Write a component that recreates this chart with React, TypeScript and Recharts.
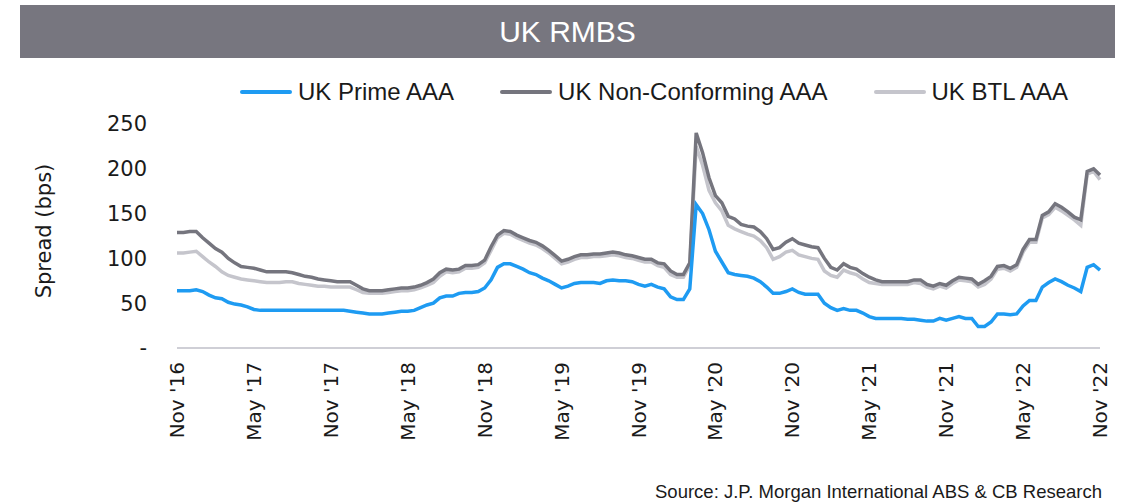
import { Legend, Line, LineChart, XAxis, YAxis } from "recharts";

// Half-month steps from Nov '16 to Nov '22, spreads in bps.
const tickLabels = [
  "Nov '16", "May '17", "Nov '17", "May '18", "Nov '18", "May '19", "Nov '19",
  "May '20", "Nov '20", "May '21", "Nov '21", "May '22", "Nov '22",
];

const prime = [
  64, 64, 64, 65, 63, 59, 56, 55, 51, 49,
  48, 46, 43, 42, 42, 42, 42, 42, 42, 42,
  42, 42, 42, 42, 42, 42, 42, 41, 40, 39,
  38, 38, 38, 39, 40, 41, 41, 42, 45, 48,
  50, 56, 58, 58, 61, 62, 62, 63, 67, 76,
  90, 94, 94, 91, 88, 84, 82, 78, 75, 71,
  67, 69, 72, 73, 73, 73, 72, 75, 76, 75,
  75, 74, 71, 69, 71, 68, 66, 57, 54, 54,
  66, 160, 150, 132, 108, 96, 84, 82, 81, 80,
  78, 74, 68, 61, 61, 63, 66, 62, 60, 60,
  60, 50, 45, 42, 44, 42, 42, 39, 35, 33,
  33, 33, 33, 33, 32, 32, 31, 30, 30, 33,
  31, 33, 35, 33, 33, 24, 24, 29, 38, 38,
  37, 38, 47, 53, 53, 68, 73, 77, 74, 70,
  67, 63, 90, 93, 87,
];

const nonConforming = [
  129, 129, 130, 130, 123, 117, 111, 107, 100, 95,
  91, 90, 89, 87, 85, 85, 85, 85, 84, 82,
  80, 79, 77, 76, 75, 74, 74, 74, 70, 66,
  64, 64, 64, 65, 66, 67, 67, 68, 70, 73,
  77, 84, 88, 87, 88, 92, 92, 93, 98, 113,
  126, 131, 130, 126, 123, 120, 118, 114, 109, 103,
  97, 99, 102, 104, 104, 105, 105, 106, 107, 106,
  104, 103, 101, 99, 99, 95, 94, 86, 82, 82,
  95, 240, 218, 190, 170, 162, 147, 144, 138, 136,
  135, 130, 122, 110, 112, 118, 122, 117, 115, 113,
  112, 100, 90, 87, 94, 90, 88, 83, 79, 76,
  74, 74, 74, 74, 74, 76, 76, 71, 69, 72,
  70, 75, 79, 78, 77, 71, 75, 80, 91, 92,
  89, 93, 110, 121, 121, 148, 152, 161, 157, 152,
  146, 143, 197, 200, 193,
];

const btl = [
  106, 106, 107, 108, 102, 96, 91, 85, 81, 79,
  77, 76, 75, 74, 73, 73, 73, 74, 74, 72,
  71, 70, 69, 69, 68, 68, 68, 68, 65, 62,
  61, 61, 61, 62, 63, 64, 64, 65, 67, 70,
  73, 80, 85, 84, 85, 89, 89, 90, 95, 109,
  123, 128, 127, 123, 120, 117, 115, 111, 106, 100,
  94, 96, 99, 101, 101, 102, 102, 103, 104, 103,
  101, 100, 98, 96, 96, 92, 90, 82, 79, 79,
  92, 225, 204, 176, 162, 153, 137, 133, 130, 127,
  125, 120, 112, 99, 102, 107, 109, 104, 102, 100,
  99, 86, 81, 79, 87, 84, 82, 77, 73, 72,
  71, 71, 71, 71, 71, 73, 72, 68, 66, 69,
  67, 72, 76, 75, 74, 68, 71, 77, 88, 89,
  86, 90, 107, 118, 118, 145, 149, 157, 153, 148,
  143, 137, 194, 197, 188,
];

const yTicks = [0, 50, 100, 150, 200, 250];

const rows = prime.map((p, i) => ({
  month: i / 2,
  prime: p,
  nonConf: nonConforming[i],
  btl: btl[i],
}));

const tickMonths = tickLabels.map((_, i) => i * 6);

const legendOrder = ["prime", "nonConf", "btl"];

const sans = '"Liberation Sans", Arial, sans-serif';
const dejavu = '"DejaVu Sans", Verdana, sans-serif';

function MonthTick(props: any) {
  const { x, y, payload } = props;
  return (
    <text
      x={x}
      y={y}
      transform={`rotate(-90, ${x}, ${y})`}
      textAnchor="end"
      dominantBaseline="central"
      fontFamily={dejavu}
      fontSize={20}
      fill="#1a1a1a"
    >
      {tickLabels[Math.round(payload.value / 6)]}
    </text>
  );
}

function LegendRow(props: any) {
  const items = [...(props.payload ?? [])].sort(
    (a: any, b: any) => legendOrder.indexOf(a.dataKey) - legendOrder.indexOf(b.dataKey)
  );
  return (
    <div style={{ display: "flex", alignItems: "center", paddingLeft: 240 }}>
      {items.map((item: any) => (
        <div key={item.dataKey} style={{ display: "flex", alignItems: "center", marginRight: 46 }}>
          <span
            style={{
              display: "inline-block",
              width: 52,
              height: 4,
              borderRadius: 2,
              background: item.color,
              marginRight: 6,
            }}
          />
          <span style={{ fontFamily: sans, fontSize: 24, color: "#1a1a1a", lineHeight: "28px" }}>
            {item.value}
          </span>
        </div>
      ))}
    </div>
  );
}

export default function App() {
  return (
    <div style={{ position: "absolute", left: 0, top: 0, width: 1125, height: 503, background: "#fff" }}>
      <div
        style={{
          position: "absolute",
          left: 20,
          top: 5,
          width: 1095,
          height: 53,
          background: "#77767f",
          color: "#fff",
          fontFamily: sans,
          fontSize: 30,
          lineHeight: "53px",
          textAlign: "center",
        }}
      >
        UK RMBS
      </div>

      <LineChart
        width={1125}
        height={503}
        data={rows}
        margin={{ top: 124, right: 25, bottom: 95, left: 77 }}
        style={{ position: "absolute", left: 0, top: 0 }}
      >
        <XAxis
          dataKey="month"
          type="number"
          domain={[0, 72]}
          ticks={tickMonths}
          tick={<MonthTick />}
          tickLine={false}
          tickSize={0}
          tickMargin={14}
          height={60}
          axisLine={{ stroke: "#cfcfd6", strokeWidth: 2 }}
        />
        <YAxis
          domain={[0, 250]}
          ticks={yTicks}
          width={100}
          axisLine={false}
          tickLine={false}
          tickSize={0}
          tickMargin={30}
          tick={{ fontFamily: dejavu, fontSize: 21, fill: "#1a1a1a" }}
          tickFormatter={(v: number) => (v === 0 ? "-" : String(v))}
        />
        <Legend
          verticalAlign="middle"
          align="center"
          layout="horizontal"
          content={<LegendRow />}
          wrapperStyle={{ top: 78, left: 0, width: 1125 }}
        />
        <Line
          dataKey="btl"
          name="UK BTL AAA"
          stroke="#c5c5cc"
          strokeWidth={3.5}
          dot={false}
          isAnimationActive={false}
        />
        <Line
          dataKey="nonConf"
          name="UK Non-Conforming AAA"
          stroke="#75757e"
          strokeWidth={3.5}
          dot={false}
          isAnimationActive={false}
        />
        <Line
          dataKey="prime"
          name="UK Prime AAA"
          stroke="#1e9bf2"
          strokeWidth={3.5}
          dot={false}
          isAnimationActive={false}
        />
      </LineChart>

      <div
        style={{
          position: "absolute",
          left: 44,
          top: 231,
          transform: "translate(-50%, -50%) rotate(-90deg)",
          whiteSpace: "nowrap",
          fontFamily: dejavu,
          fontSize: 21,
          color: "#1a1a1a",
        }}
      >
        Spread (bps)
      </div>

      <div
        style={{
          position: "absolute",
          right: 23,
          top: 482,
          fontFamily: sans,
          fontSize: 18.5,
          lineHeight: "20px",
          color: "#1a1a1a",
          whiteSpace: "nowrap",
        }}
      >
        Source: J.P. Morgan International ABS &amp; CB Research
      </div>
    </div>
  );
}
